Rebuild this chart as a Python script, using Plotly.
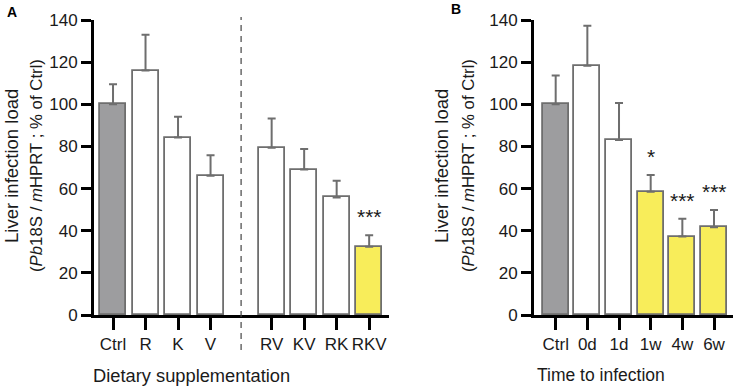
import plotly.graph_objects as go

# ---------------- data ----------------
cats_a = ["Ctrl", "R", "K", "V", "RV", "KV", "RK", "RKV"]
vals_a = [100, 116, 84.2, 66.1, 79.4, 69.0, 55.8, 32.4]
err_a = [9.5, 17.0, 9.9, 9.7, 13.8, 9.8, 7.9, 5.4]
sig_a = ["", "", "", "", "", "", "", "***"]
fill_a = ["gray", "white", "white", "white", "white", "white", "white", "yellow"]

cats_b = ["Ctrl", "0d", "1d", "1w", "4w", "6w"]
vals_b = [100, 118.3, 83.1, 58.5, 37.2, 41.6]
err_b = [13.7, 19.0, 17.5, 7.9, 8.5, 8.2]
sig_b = ["", "", "", "*", "***", "***"]
fill_b = ["gray", "white", "white", "yellow", "yellow", "yellow"]

yticks = [0, 20, 40, 60, 80, 100, 120, 140]

# ---------------- style ----------------
W, H = 736, 388
FONT = "Liberation Sans, Arial, sans-serif"
TXT = "#1a1a1a"
COLORS = {"gray": "#9d9d9f", "white": "#ffffff", "yellow": "#f8ed5a"}
EDGE = "#6e6e6e"
GAP_A = 0.88  # extra space between single and combined supplementation groups

pos_a = [i if i < 4 else i + GAP_A for i in range(len(cats_a))]
pos_b = list(range(len(cats_b)))

fig = go.Figure()


def add_bars(pos, vals, errs, fills, xa, ya, width):
    fig.add_trace(go.Bar(
        x=pos, y=vals, width=width,
        marker=dict(color=[COLORS[f] for f in fills],
                    line=dict(color=EDGE, width=1.8)),
        error_y=dict(type="data", symmetric=False, array=errs,
                     arrayminus=[0] * len(errs), color=EDGE,
                     thickness=2, width=4),
        xaxis=xa, yaxis=ya, showlegend=False, hoverinfo="skip",
    ))


add_bars(pos_a, vals_a, err_a, fill_a, "x", "y", 0.8)
add_bars(pos_b, vals_b, err_b, fill_b, "x2", "y2", 0.82)

ydom = [(H - 315) / H, (H - 20) / H]
xdom_a = [94 / W, 389 / W]
xdom_b = [534 / W, 733 / W]
xr_a = [-0.585, 8.49]
xr_b = [-0.685, 5.6]

axis_common = dict(showline=True, linecolor="black", linewidth=3,
                   ticks="outside", tickcolor="black", tickwidth=2.5,
                   showgrid=False, zeroline=False, tickangle=0,
                   automargin=False,
                   tickfont=dict(family=FONT, size=17, color=TXT))

fig.update_layout(
    template="none",
    width=W, height=H, autosize=False,
    margin=dict(l=0, r=0, t=0, b=0, pad=0, autoexpand=False),
    paper_bgcolor="white", plot_bgcolor="white",
    bargap=0,
    xaxis=dict(domain=xdom_a, range=xr_a, anchor="y",
               tickvals=pos_a, ticktext=cats_a, ticklen=12, **axis_common),
    yaxis=dict(domain=ydom, range=[0, 140], anchor="x",
               tickvals=yticks, ticklen=10, **axis_common),
    xaxis2=dict(domain=xdom_b, range=xr_b, anchor="y2",
                tickvals=pos_b, ticktext=cats_b, ticklen=12, **axis_common),
    yaxis2=dict(domain=ydom, range=[0, 140], anchor="x2",
                tickvals=yticks, ticklen=10, **axis_common),
)

# dashed separator between groups in panel A
sep = (pos_a[3] + pos_a[4]) / 2
sep_frac = (sep - xr_a[0]) / (xr_a[1] - xr_a[0])
fig.add_shape(type="line", xref="x domain", yref="paper",
              x0=sep_frac, x1=sep_frac, y0=(H - 350) / H, y1=(H - 17) / H,
              line=dict(color="#444444", width=1.2, dash="6px,5px"))

# significance stars
for xa, ya, pos, vals, errs, sigs in [("x", "y", pos_a, vals_a, err_a, sig_a),
                                      ("x2", "y2", pos_b, vals_b, err_b, sig_b)]:
    for p, v, e, s in zip(pos, vals, errs, sigs):
        if s:
            fig.add_annotation(x=p, y=v + e, xref=xa, yref=ya, text=s,
                               showarrow=False, yanchor="bottom", yshift=5,
                               font=dict(family=FONT, size=21, color=TXT))

# axis titles (as annotations, for exact placement)
ymid = (H - 166) / H
for xc1, xc2 in [(11, 36), (441, 468)]:
    fig.add_annotation(x=xc1 / W, y=ymid, xref="paper", yref="paper",
                       text="Liver infection load", textangle=-90,
                       showarrow=False, xanchor="center", yanchor="middle",
                       font=dict(family=FONT, size=18.5, color=TXT))
    fig.add_annotation(x=xc2 / W, y=ymid, xref="paper", yref="paper",
                       text="(<i>Pb</i>18S / <i>m</i>HPRT ; % of Ctrl)",
                       textangle=-90,
                       showarrow=False, xanchor="center", yanchor="middle",
                       font=dict(family=FONT, size=16.8, color=TXT))

fig.add_annotation(x=91 / W, y=(H - 375) / H, xref="paper", yref="paper",
                   text="Dietary supplementation", showarrow=False,
                   xanchor="left", yanchor="middle",
                   font=dict(family=FONT, size=18.3, color=TXT))
fig.add_annotation(x=535 / W, y=(H - 375) / H, xref="paper", yref="paper",
                   text="Time to infection", showarrow=False,
                   xanchor="left", yanchor="middle",
                   font=dict(family=FONT, size=17.5, color=TXT))

# panel letters
fig.add_annotation(x=12 / W, y=(H - 12) / H, xref="paper", yref="paper",
                   text="<b>A</b>", showarrow=False, xanchor="center",
                   yanchor="middle",
                   font=dict(family=FONT, size=14, color="black"))
fig.add_annotation(x=456 / W, y=(H - 9) / H, xref="paper", yref="paper",
                   text="<b>B</b>", showarrow=False, xanchor="center",
                   yanchor="middle",
                   font=dict(family=FONT, size=14, color="black"))

# remove the browser's default page margin so the figure sits at (0, 0)
fig.write_html("out.html",
               config={"displayModeBar": False},
               post_script="document.body.style.margin='0';"
                           "document.body.style.overflow='hidden';")
